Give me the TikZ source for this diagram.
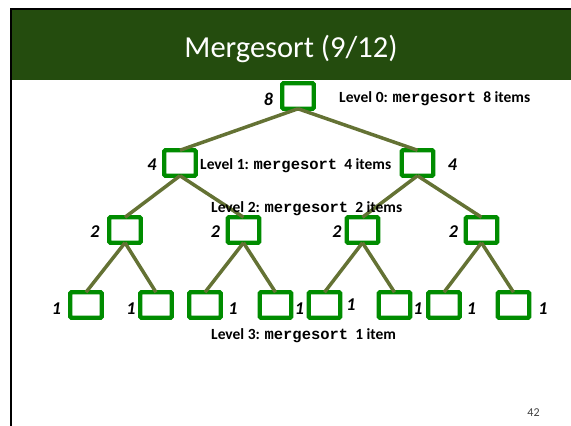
\documentclass[tikz,border=0pt]{standalone}
\usepackage{fontspec}
\setmainfont{Carlito}
\newfontfamily\codefont{Liberation Mono}
\definecolor{titlegreen}{RGB}{36,76,14}
\definecolor{boxgreen}{RGB}{0,140,0}
\definecolor{branchgreen}{RGB}{100,114,52}

\begin{document}
\begin{tikzpicture}[x=1pt,y=-1pt]
\tikzstyle{box}=[draw=boxgreen, line width=4.2pt, fill=white, minimum width=31.5pt, minimum height=25.5pt, inner sep=0pt, outer sep=0pt, rounded corners=1pt]
\tikzstyle{size}=[font=\fontsize{18}{18}\selectfont\bfseries\itshape, inner sep=0pt, anchor=base]
\tikzstyle{lvl}=[font=\fontsize{15.5}{15.5}\selectfont\bfseries, inner sep=0pt, anchor=base west]
\tikzstyle{branch}=[draw=branchgreen, line width=3.5pt]
\useasboundingbox (0,0) rectangle (571,426);
\fill[titlegreen] (11,9) rectangle (571,80);
\draw[line width=2pt] (11,426) -- (11,9) -- (571,9);
\node (title) [text=white, font=\fontsize{30.5}{30.5}\selectfont, anchor=base, inner sep=0pt] at (291,57) {Mergesort (9/12)};
\node (page) [text=black!75, font=\fontsize{12}{12}\selectfont, anchor=base, inner sep=0pt] at (533.5,416) {42};
% the tree
\draw (298,96) node (v1) [box] {};
\draw (180,163) node (v2) [box] {};
\draw (417.5,163) node (v3) [box] {};
\draw (125,230) node (v4) [box] {};
\draw (243.5,230) node (v5) [box] {};
\draw (362.5,230) node (v6) [box] {};
\draw (481.5,230) node (v7) [box] {};
\draw (86,305) node (v8) [box] {};
\draw (156,305) node (v9) [box] {};
\draw (205,305) node (v10) [box] {};
\draw (275.5,305) node (v11) [box] {};
\draw (324.5,305) node (v12) [box] {};
\draw (394.5,305) node (v13) [box] {};
\draw (444,305) node (v14) [box] {};
\draw (513.5,305) node (v15) [box] {};
\draw[branch] (v1.south) -- (v2.north);
\draw[branch] (v1.south) -- (v3.north);
\draw[branch] (v2.south) -- (v4.north);
\draw[branch] (v2.south) -- (v5.north);
\draw[branch] (v3.south) -- (v6.north);
\draw[branch] (v3.south) -- (v7.north);
\draw[branch] (v4.south) -- (v8.north);
\draw[branch] (v4.south) -- (v9.north);
\draw[branch] (v5.south) -- (v10.north);
\draw[branch] (v5.south) -- (v11.north);
\draw[branch] (v6.south) -- (v12.north);
\draw[branch] (v6.south) -- (v13.north);
\draw[branch] (v7.south) -- (v14.north);
\draw[branch] (v7.south) -- (v15.north);
% sizes
\node (s1) [size] at (268.5,105) {8};
\node (s2) [size] at (152,170) {4};
\node (s3) [size] at (452.5,170) {4};
\node (s4) [size] at (95,237) {2};
\node (s5) [size] at (215.5,237) {2};
\node (s6) [size] at (337,237) {2};
\node (s7) [size] at (453.5,237) {2};
\node (s8) [size] at (56.5,314) {1};
\node (s9) [size] at (131,314) {1};
\node (s10) [size] at (233,314) {1};
\node (s11) [size] at (299.5,314) {1};
\node (s12) [size] at (351,310) {1};
\node (s13) [size] at (418,314) {1};
\node (s14) [size] at (471.5,314) {1};
\node (s15) [size] at (543,314) {1};
% levels
\node (l0) [lvl] at (339,102) {Level 0: {\codefont\bfseries mergesort}\ \ 8 items};
\node (l1) [lvl] at (200,169) {Level 1: {\codefont\bfseries mergesort}\ \ 4 items};
\node (l2) [lvl] at (211,212) {Level 2: {\codefont\bfseries mergesort}\ \ 2 items};
\node (l3) [lvl] at (211,339) {Level 3: {\codefont\bfseries mergesort}\ \ 1 item};
\end{tikzpicture}
\end{document}
